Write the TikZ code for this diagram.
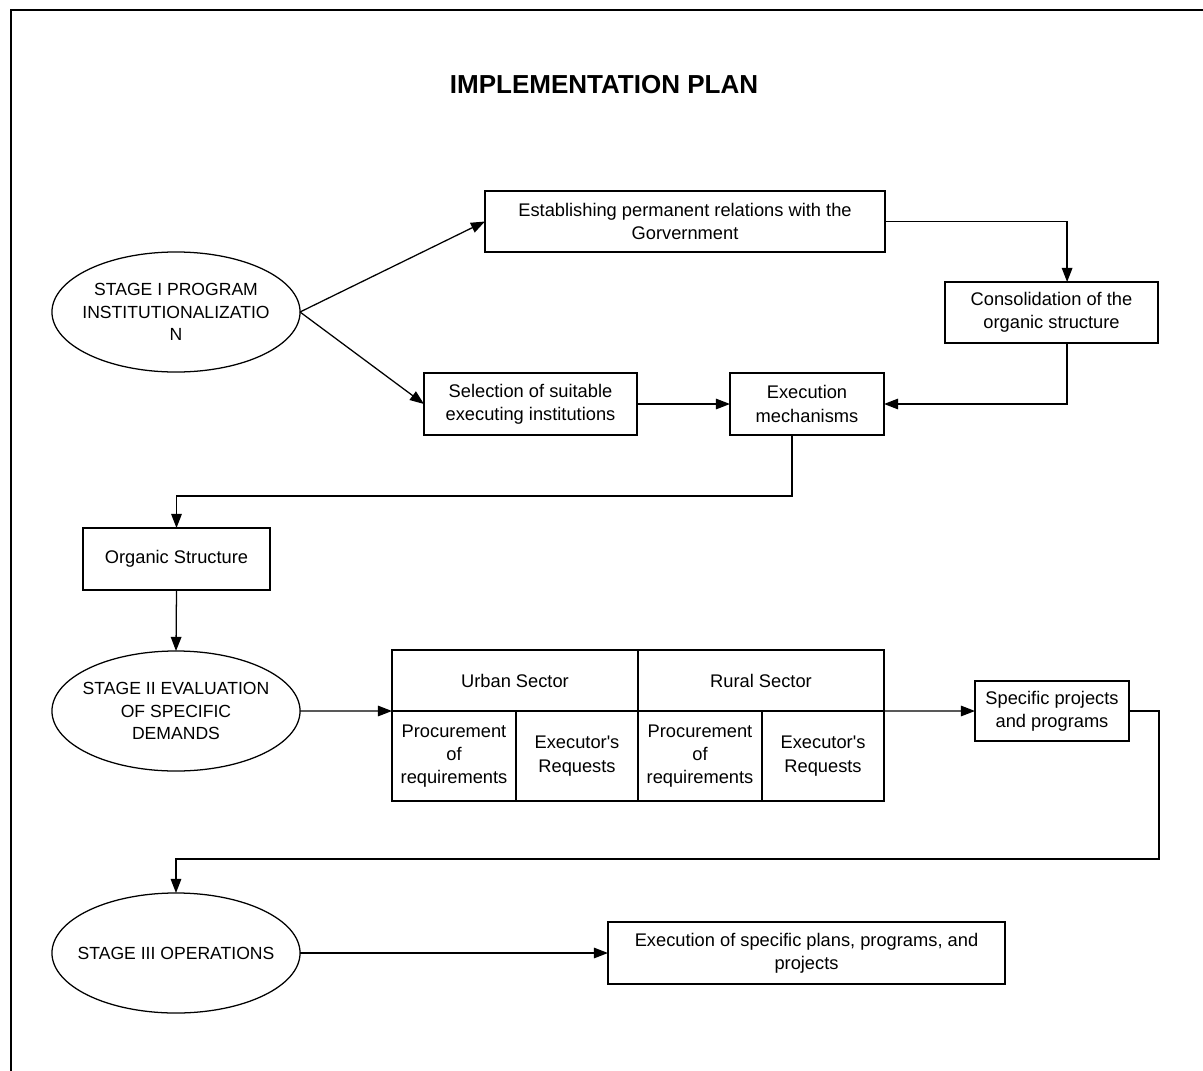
\documentclass[tikz,border=0pt]{standalone}
\usepackage{fontspec}
\setmainfont{Liberation Sans}
\usetikzlibrary{shapes.geometric,arrows.meta}

\begin{document}
\begin{tikzpicture}[
    x=0.025cm, y=-0.025cm,
    every node/.style={font=\fontsize{13}{16.5}\selectfont},
    box/.style={draw, line width=0.9pt, outer sep=0pt, inner sep=2pt, align=center},
    stage/.style={ellipse, draw, line width=0.9pt, outer sep=0pt, align=center,
        inner xsep=-14pt, inner ysep=0pt, minimum width=6.2cm, minimum height=3cm,
        font=\fontsize{12.5}{16}\selectfont},
    flow/.style={line width=0.9pt, -{Triangle[length=10pt,width=7.5pt]}}
]
\useasboundingbox (0,0) rectangle (1203,1071);

% Frame (cut at right and bottom)
\draw[line width=1.4pt] (11,1071) -- (11,10) -- (1203,10);

% Title
\node (title) at (604,85) {\fontsize{18.5}{22}\selectfont\bfseries IMPLEMENTATION PLAN};

% Stage I
\node[stage] (stage1) at (176,312) {STAGE I PROGRAM\\INSTITUTIONALIZATIO\\N};
\node[box, minimum width=10cm, minimum height=1.525cm] (govt) at (685,221.5)
    {Establishing permanent relations with the\\Gorvernment};
\node[box, minimum width=5.325cm, minimum height=1.525cm] (consol) at (1051.5,312.5)
    {Consolidation of the\\organic structure};
\node[box, minimum width=5.325cm, minimum height=1.55cm] (select) at (530.5,404)
    {Selection of suitable\\executing institutions};
\node[box, minimum width=3.85cm, minimum height=1.55cm] (mech) at (807,404)
    {Execution\\mechanisms};
\node[box, minimum width=4.675cm, minimum height=1.55cm] (organic) at (176.5,559)
    {Organic Structure};

% Stage II
\node[stage] (stage2) at (176,711) {STAGE II EVALUATION\\OF SPECIFIC\\DEMANDS};
\node[box, minimum width=6.15cm, minimum height=1.525cm] (urban) at (515,680.5) {Urban Sector};
\node[box, minimum width=6.15cm, minimum height=1.525cm] (rural) at (761,680.5) {Rural Sector};
\node[box, minimum width=3.1cm, minimum height=2.25cm] (proc1) at (454,756)
    {Procurement\\of\\requirements};
\node[box, minimum width=3.05cm, minimum height=2.25cm] (exec1) at (577,756)
    {Executor\textquotesingle s\\Requests};
\node[box, minimum width=3.1cm, minimum height=2.25cm] (proc2) at (700,756)
    {Procurement\\of\\requirements};
\node[box, minimum width=3.05cm, minimum height=2.25cm] (exec2) at (823,756)
    {Executor\textquotesingle s\\Requests};
\node[box, minimum width=3.85cm, minimum height=1.5cm] (specific) at (1052,711)
    {Specific projects\\and programs};

% Stage III
\node[stage] (stage3) at (176,953) {STAGE III OPERATIONS};
\node[box, minimum width=9.925cm, minimum height=1.55cm] (plan) at (806.5,953)
    {Execution of specific plans, programs, and\\projects};

% Connectors
\draw[flow] (stage1.east) -- (govt.west);
\draw[flow] (stage1.east) -- (select.west);
\draw[flow] (govt.east) -| ([xshift=0.39cm]consol.north);
\draw[flow] ([xshift=0.39cm]consol.south) |- (mech.east);
\draw[flow] (select.east) -- (mech.west);
\draw[flow] ([xshift=-0.375cm]mech.south) -- ++(0,61) -| (organic.north);
\draw[flow] (organic.south) -- (stage2.north);
\draw[flow] (stage2.east) -- (urban.south west);
\draw[flow] (rural.south east) -- (specific.west);
\draw[flow] (specific.east) -- ++(30,0) -- ++(0,148) -| (stage3.north);
\draw[flow] (stage3.east) -- (plan.west);

\end{tikzpicture}
\end{document}
